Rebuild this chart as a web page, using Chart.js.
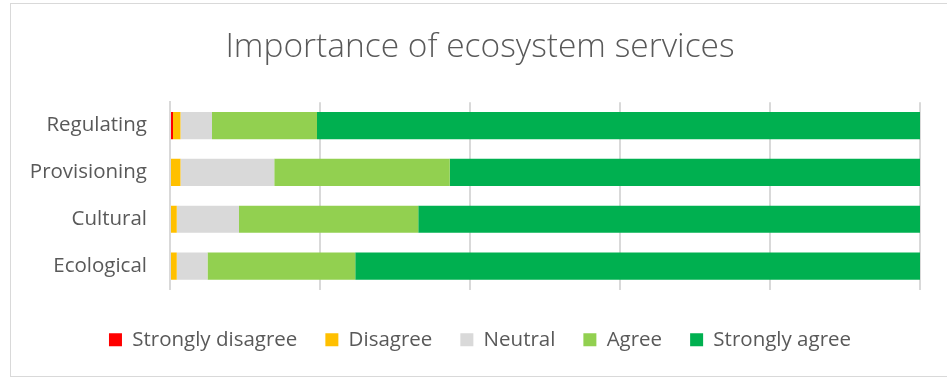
<!DOCTYPE html>
<html>
<head>
<meta charset="utf-8">
<title>Importance of ecosystem services</title>
<script src="https://cdn.jsdelivr.net/npm/chart.js@4"></script>
<style>
  body { margin: 0; background: #fff; }
  #wrap { position: relative; width: 947px; height: 378px; }
</style>
</head>
<body>
<div id="wrap"><canvas id="chart" width="947" height="378"></canvas></div>
<script>
// categories, top to bottom
var services = ['Regulating', 'Provisioning', 'Cultural', 'Ecological'];

// share of answers per service, in percent
var stronglyDisagree = [0.4, 0, 0, 0];
var disagree = [1.0, 1.4, 0.9, 0.9];
var neutral = [4.2, 12.5, 8.3, 4.1];
var agree = [14.0, 23.4, 23.9, 19.7];
var stronglyAgree = [80.4, 62.7, 66.9, 75.3];

var textColor = '#595959';
var lineColor = '#d9d9d9';

// light frame round the whole chart
var framePlugin = {
    id: 'frame',
    beforeDraw: function(chart) {
        var ctx = chart.ctx;
        ctx.save();
        ctx.fillStyle = '#fff';
        ctx.fillRect(0, 0, chart.width, chart.height);
        ctx.strokeStyle = lineColor;
        ctx.lineWidth = 1;
        ctx.strokeRect(10.5, 3.5, 960, 373);
        ctx.restore();
    }
};

// let the category labels use the left padding too, so they are not clipped
var labelRoomPlugin = {
    id: 'labelRoom',
    afterLayout: function(chart) {
        chart.scales.y.left = 0;
    }
};

function series(label, data, color) {
    return {
        label: label,
        data: data,
        backgroundColor: color,
        borderWidth: 0,
        barPercentage: 0.58,
        categoryPercentage: 1
    };
}

var ctx = document.getElementById('chart').getContext('2d');
var chart = new Chart(ctx, {
    type: 'bar',
    data: {
        labels: services,
        datasets: [
            series('Strongly disagree', stronglyDisagree, '#ff0000'),
            series('Disagree', disagree, '#ffc000'),
            series('Neutral', neutral, '#d9d9d9'),
            series('Agree', agree, '#92d050'),
            series('Strongly agree', stronglyAgree, '#00b050')
        ]
    },
    options: {
        indexAxis: 'y',
        responsive: false,
        animation: false,
        layout: {
            padding: { left: 40, right: 27, top: 0, bottom: 18 }
        },
        plugins: {
            title: {
                display: true,
                text: 'Importance of ecosystem services',
                color: textColor,
                font: { family: 'Open Sans', size: 33.5, weight: 300 },
                padding: { top: 27, bottom: 35 }
            },
            legend: {
                position: 'bottom',
                labels: {
                    color: textColor,
                    font: { family: 'Open Sans', size: 20.5 },
                    boxWidth: 13,
                    boxHeight: 13,
                    padding: 28
                }
            },
            tooltip: { enabled: false }
        },
        scales: {
            x: {
                stacked: true,
                min: 0,
                max: 100,
                ticks: { display: false, stepSize: 20 },
                grid: { color: lineColor, lineWidth: 2, drawTicks: false },
                border: { display: false },
                afterFit: function(scale) { scale.height = 12; }
            },
            y: {
                stacked: true,
                ticks: {
                    color: textColor,
                    font: { family: 'Open Sans', size: 20.5 },
                    padding: 23
                },
                grid: { display: false, drawTicks: false },
                border: { color: lineColor, width: 2 },
                afterFit: function(scale) { scale.width = 130; }
            }
        }
    },
    plugins: [framePlugin, labelRoomPlugin]
});
</script>
</body>
</html>
